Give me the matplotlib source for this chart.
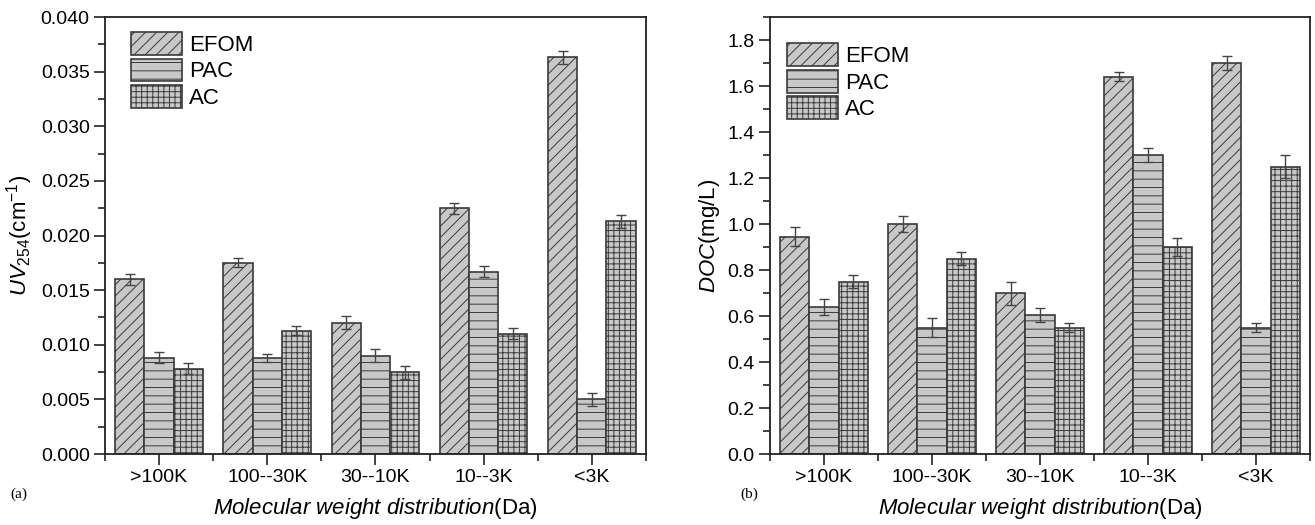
import numpy as np
import matplotlib.pyplot as plt
from matplotlib.ticker import MultipleLocator, FormatStrFormatter

plt.rcParams['font.family'] = ['Liberation Sans', 'DejaVu Sans']
plt.rcParams['mathtext.fontset'] = 'custom'
plt.rcParams['mathtext.rm'] = 'Liberation Sans'
plt.rcParams['mathtext.it'] = 'Liberation Sans:italic'
plt.rcParams['hatch.linewidth'] = 0.7

groups = ['>100K', '100--30K', '30--10K', '10--3K', '<3K']
series = ['EFOM', 'PAC', 'AC']
hatches = ['///', '--', '+++']

# UV254 (cm-1)
uv_efom = [0.0160, 0.0175, 0.0120, 0.0225, 0.0363]
uv_pac = [0.0088, 0.0088, 0.0090, 0.0167, 0.0050]
uv_ac = [0.0078, 0.0113, 0.0075, 0.0110, 0.0213]
uv_efom_err = [0.0005, 0.0004, 0.0006, 0.0005, 0.0006]
uv_pac_err = [0.0005, 0.0004, 0.0006, 0.0005, 0.0006]
uv_ac_err = [0.0005, 0.0004, 0.0006, 0.0005, 0.0006]

# DOC (mg/L)
doc_efom = [0.945, 1.00, 0.70, 1.64, 1.70]
doc_pac = [0.64, 0.55, 0.605, 1.30, 0.55]
doc_ac = [0.75, 0.85, 0.55, 0.90, 1.25]
doc_efom_err = [0.04, 0.035, 0.05, 0.02, 0.03]
doc_pac_err = [0.035, 0.04, 0.03, 0.03, 0.02]
doc_ac_err = [0.03, 0.03, 0.02, 0.04, 0.05]

fig = plt.figure(figsize=(13.15, 5.25), dpi=100)
ax1 = fig.add_axes([0.0798, 0.1352, 0.4114, 0.8324])
ax2 = fig.add_axes([0.5856, 0.1352, 0.4106, 0.8324])

x = np.arange(1, len(groups) + 1)
w = 0.27


def draw_panel(ax, vals, errs, ylim, major, minor, fmt, ylabel, leg_anchor):
    for i, (v, e) in enumerate(zip(vals, errs)):
        ax.bar(x + (i - 1) * w, v, w, color='#c8c8c8', edgecolor='#3a3a3a',
               linewidth=1.2, hatch=hatches[i], label=series[i], zorder=2)
        ax.errorbar(x + (i - 1) * w, v, yerr=e, fmt='none', ecolor='#444444',
                    elinewidth=1.0, capsize=3.5, capthick=1.0, zorder=3)
    ax.set_xlim(0.5, 5.5)
    ax.set_ylim(*ylim)
    ax.set_xticks(x)
    ax.set_xticklabels(groups)
    ax.set_xticks(np.arange(0.5, 6, 1), minor=True)
    ax.yaxis.set_major_locator(MultipleLocator(major))
    ax.yaxis.set_minor_locator(MultipleLocator(minor))
    ax.yaxis.set_major_formatter(FormatStrFormatter(fmt))
    ax.tick_params(which='major', direction='out', length=8, width=1.2,
                   labelsize=14, color='#222222')
    ax.tick_params(which='minor', direction='out', length=5, width=1.2,
                   color='#222222')
    ax.tick_params(axis='x', pad=3)
    ax.tick_params(axis='y', pad=3)
    for s in ax.spines.values():
        s.set_linewidth(1.3)
        s.set_color('#222222')
    ax.set_xlabel(r'$\mathit{Molecular\ weight\ distribution}$(Da)',
                  fontsize=16, labelpad=7)
    ax.set_ylabel(ylabel, fontsize=16, labelpad=4)
    ax.legend(loc='upper left', bbox_to_anchor=leg_anchor, frameon=False,
              fontsize=16, handlelength=2.3, handleheight=1.2,
              labelspacing=0.12, handletextpad=0.3, borderaxespad=0)


draw_panel(ax1, [uv_efom, uv_pac, uv_ac], [uv_efom_err, uv_pac_err, uv_ac_err],
           (0, 0.040), 0.005, 0.0025, '%.3f',
           r'$\mathit{UV}_{254}$(cm$^{-1}$)', (0.032, 0.986))
draw_panel(ax2, [doc_efom, doc_pac, doc_ac], [doc_efom_err, doc_pac_err, doc_ac_err],
           (0, 1.9), 0.2, 0.1, '%.1f',
           r'$\mathit{DOC}$(mg/L)', (0.015, 0.96))

fig.text(0.008, 0.052, '(a)', fontsize=11, family='Liberation Serif')
fig.text(0.563, 0.052, '(b)', fontsize=11, family='Liberation Serif')

fig.savefig('out.png', dpi=100)
